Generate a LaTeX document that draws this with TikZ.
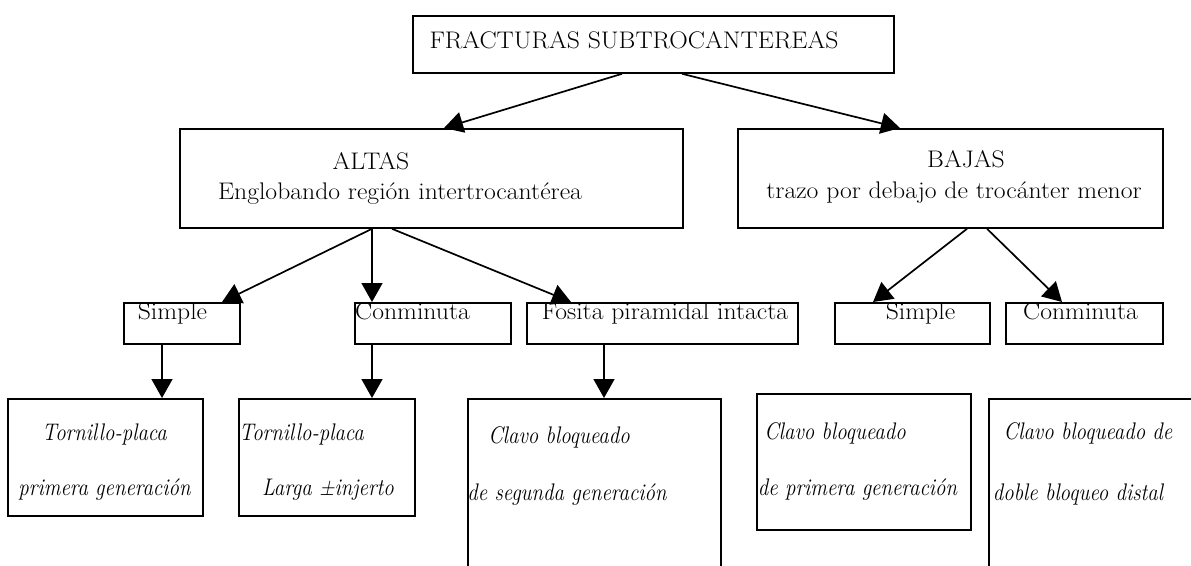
\documentclass[tikz,border=0pt]{standalone}
\usepackage{graphicx}
\usetikzlibrary{arrows.meta}
\newcommand{\sxq}[1]{\scalebox{0.87}[1]{#1}}
\newcommand{\sxr}[1]{\scalebox{1.07}[1]{#1}}
\tikzset{
  boxn/.style={draw, line width=1.8pt, inner sep=0pt, anchor=north west},
  conn/.style={line width=1.7pt, -{Triangle[length=19pt,width=21pt]}},
  rtxt/.style={inner sep=0pt, anchor=base, font=\fontsize{24}{28}\selectfont},
  itxt/.style={inner sep=0pt, anchor=base, font=\fontsize{24}{28}\selectfont\itshape},
}
\begin{document}
\begin{tikzpicture}[x=1pt,y=-1pt]
\useasboundingbox (0,0) rectangle (1191,565);
\clip (0,0) rectangle (1191,565);
% boxes
\node[boxn, minimum width=481pt, minimum height=57pt] (top) at (412,15) {};
\node[boxn, minimum width=503pt, minimum height=99pt] (altas) at (179,128) {};
\node[boxn, minimum width=425pt, minimum height=99pt] (bajas) at (737,128) {};
\node[boxn, minimum width=116pt, minimum height=41pt] (s1) at (123,302) {};
\node[boxn, minimum width=156pt, minimum height=41pt] (c1) at (354,302) {};
\node[boxn, minimum width=271pt, minimum height=41pt] (f1) at (526,302) {};
\node[boxn, minimum width=155pt, minimum height=41pt] (s2) at (834,302) {};
\node[boxn, minimum width=157pt, minimum height=41pt] (c2) at (1005,302) {};
\node[boxn, minimum width=195pt, minimum height=117pt] (b1) at (7,398) {};
\node[boxn, minimum width=176pt, minimum height=117pt] (b2) at (238,398) {};
\node[boxn, minimum width=253pt, minimum height=200pt] (b3) at (467,398) {};
\node[boxn, minimum width=214pt, minimum height=136pt] (b4) at (756,393) {};
\node[boxn, minimum width=250pt, minimum height=200pt] (b5) at (988,398) {};
% texts
\node[rtxt] (t0) at (634,48) {\sxr{FRACTURAS SUBTROCANTEREAS}};
\node[rtxt] (ta1) at (371,169) {\sxr{ALTAS}};
\node[rtxt] (ta2) at (400,199) {\sxr{Englobando región intertrocantérea}};
\node[rtxt] (tb1) at (966,167) {\sxr{BAJAS}};
\node[rtxt] (tb2) at (954,198) {\sxr{trazo por debajo de trocánter menor}};
\node[rtxt] (ts1) at (172.5,319) {\sxr{Simple}};
\node[rtxt] (tc1) at (412.5,319) {\sxr{Conminuta}};
\node[rtxt] (tf1) at (665,319) {\sxr{Fosita piramidal intacta}};
\node[rtxt] (ts2) at (920.5,319) {\sxr{Simple}};
\node[rtxt] (tc2) at (1080.5,319) {\sxr{Conminuta}};
\node[itxt] (tb1a) at (104.5,440) {\sxq{Tornillo-placa}};
\node[itxt] (tb1b) at (104.5,495) {\sxq{primera generación}};
\node[itxt] (tb2a) at (301.5,440) {\sxq{Tornillo-placa}};
\node[itxt] (tb2b) at (328,495) {\sxq{Larga ±injerto}};
\node[itxt] (tb3a) at (559,443) {\sxq{Clavo bloqueado}};
\node[itxt] (tb3b) at (567,500) {\sxq{de segunda generación}};
\node[itxt] (tb4a) at (835,439) {\sxq{Clavo bloqueado}};
\node[itxt] (tb4b) at (857.5,495) {\sxq{de primera generación}};
\node[itxt] (tb5a) at (1088,439) {\sxq{Clavo bloqueado de}};
\node[itxt] (tb5b) at (1078,500) {\sxq{doble bloqueo distal}};
% connectors
\draw[conn] ([xshift=210pt]top.south west) -- ([xshift=265pt]altas.north west);
\draw[conn] ([xshift=270pt]top.south west) -- ([xshift=163pt]bajas.north west);
\draw[conn] ([xshift=193pt]altas.south west) -- ([xshift=99pt]s1.north west);
\draw[conn] ([xshift=193pt]altas.south west) -- ([xshift=18pt]c1.north west);
\draw[conn] ([xshift=213pt]altas.south west) -- ([xshift=45pt]f1.north west);
\draw[conn] ([xshift=230pt]bajas.south west) -- ([xshift=39pt]s2.north west);
\draw[conn] ([xshift=250pt]bajas.south west) -- ([xshift=57pt]c2.north west);
\draw[conn] ([xshift=39pt]s1.south west) -- ([xshift=155pt]b1.north west);
\draw[conn] ([xshift=18pt]c1.south west) -- ([xshift=134pt]b2.north west);
\draw[conn] ([xshift=78pt]f1.south west) -- ([xshift=137pt]b3.north west);
\end{tikzpicture}
\end{document}
